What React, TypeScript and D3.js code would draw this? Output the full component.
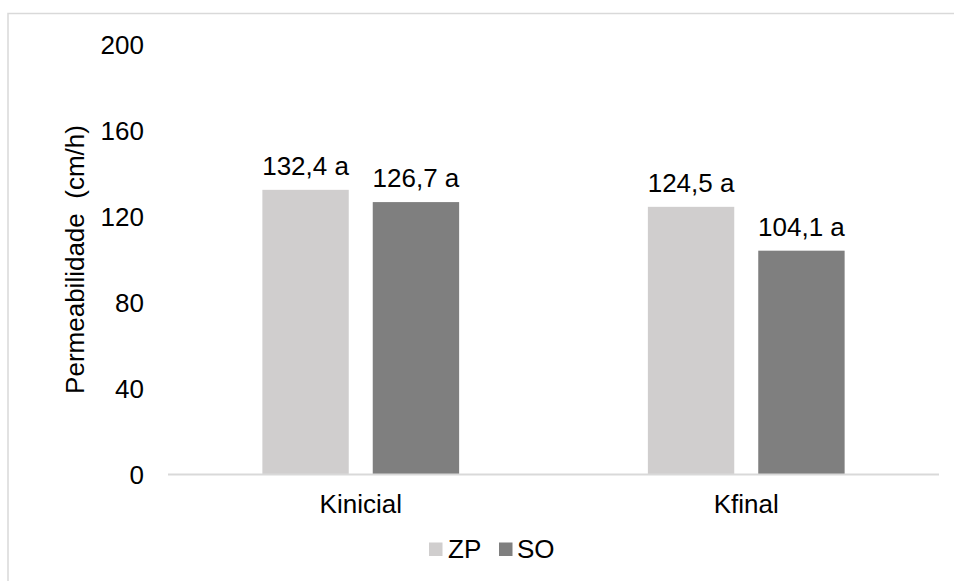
import React from "react";
import * as d3 from "d3";

// Permeability per sampling moment, for two soil conditions
const categories: string[] = ["Kinicial", "Kfinal"];
const seriesNames: string[] = ["ZP", "SO"];
const zpValues: number[] = [132.4, 124.5];
const soValues: number[] = [126.7, 104.1];
const letters: string[][] = [["a", "a"], ["a", "a"]];
const yTicks: number[] = [0, 40, 80, 120, 160, 200];
const seriesColors: string[] = ["#D0CECE", "#7F7F7F"];

const W = 954;
const H = 581;
const FONT = "'Liberation Sans', Arial, sans-serif";
const FS = 26;

export default function App() {
  const x0 = d3.scaleBand<string>().domain(categories).range([168, 939]).padding(0);
  const bw = x0.bandwidth();
  const x1 = d3
    .scaleBand<string>()
    .domain(seriesNames)
    .range([0, bw])
    .paddingInner(0.2174)
    .paddingOuter(0.855);
  const y = d3.scaleLinear().domain([0, 200]).range([474.5, 44.5]);

  const values = [zpValues, soValues];
  const fmt = (v: number) => d3.format(".1f")(v).replace(".", ",");

  return (
    <div style={{ position: "absolute", left: 0, top: 0, width: W, height: H, overflow: "hidden" }}>
      <svg width={W} height={H} style={{ display: "block", background: "#fff" }} fontFamily={FONT}>
        <rect x={8} y={13.5} width={1000} height={700} fill="#fff" stroke="#D9D9D9" strokeWidth={1.5} />

        {/* value axis labels */}
        {yTicks.map((t) => (
          <text key={t} x={144} y={y(t)} textAnchor="end" dominantBaseline="central" fontSize={FS} fill="#000">
            {t}
          </text>
        ))}

        {/* axis title */}
        <text
          transform={`translate(84, ${(y(0) + y(200)) / 2}) rotate(-90)`}
          textAnchor="middle"
          fontSize={FS}
          fill="#000"
          style={{ whiteSpace: "pre" }}
        >
          {"Permeabilidade  (cm/h)"}
        </text>

        {/* bars and value labels */}
        {categories.map((c, ci) => (
          <g key={c} transform={`translate(${x0(c)},0)`}>
            {seriesNames.map((s, si) => {
              const v = values[si][ci];
              const bx = x1(s) as number;
              return (
                <g key={s}>
                  <rect x={bx} y={y(v)} width={x1.bandwidth()} height={y(0) - y(v)} fill={seriesColors[si]} />
                  <text
                    x={bx + x1.bandwidth() / 2}
                    y={y(v) - 15}
                    textAnchor="middle"
                    fontSize={FS}
                    fill="#000"
                  >
                    {`${fmt(v)} ${letters[si][ci]}`}
                  </text>
                </g>
              );
            })}
          </g>
        ))}

        {/* category axis */}
        <line x1={168} x2={939} y1={y(0)} y2={y(0)} stroke="#D9D9D9" strokeWidth={2} />
        {categories.map((c) => (
          <text key={c} x={(x0(c) as number) + bw / 2} y={513} textAnchor="middle" fontSize={FS} fill="#000">
            {c}
          </text>
        ))}

        {/* legend */}
        <rect x={429} y={542.5} width={13.5} height={13.5} fill={seriesColors[0]} />
        <text x={448} y={557.5} fontSize={FS} fill="#000">{seriesNames[0]}</text>
        <rect x={499} y={542.5} width={13.5} height={13.5} fill={seriesColors[1]} />
        <text x={517} y={557.5} fontSize={FS} fill="#000">{seriesNames[1]}</text>
      </svg>
    </div>
  );
}
